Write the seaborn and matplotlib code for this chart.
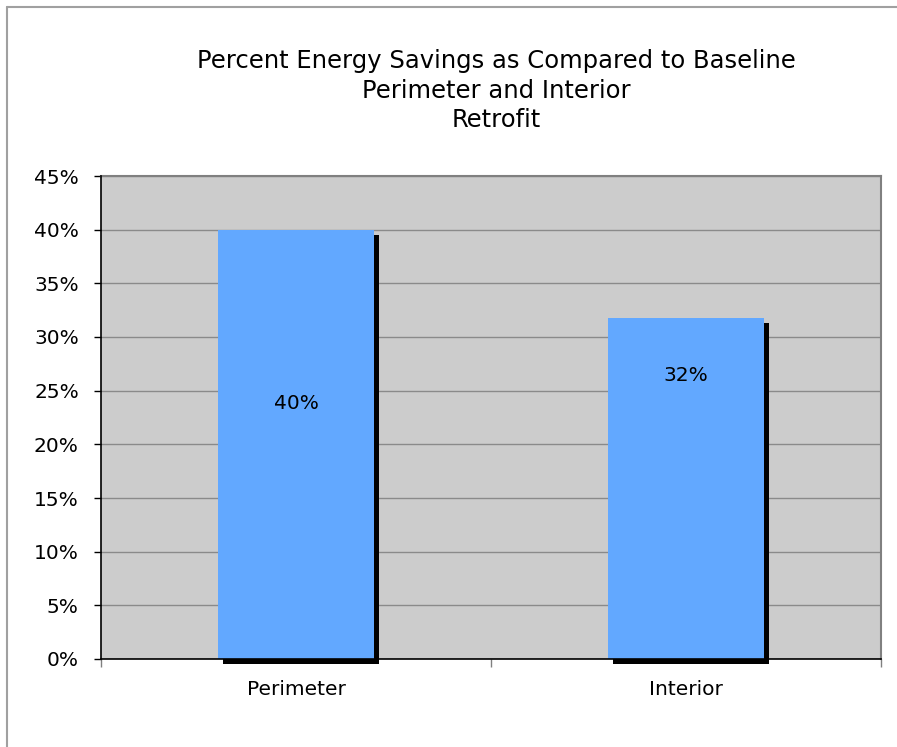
import matplotlib
matplotlib.use("Agg")
import matplotlib.pyplot as plt
import matplotlib.transforms as mtransforms
from matplotlib.patches import Rectangle
from matplotlib.lines import Line2D
import matplotlib.ticker as mticker
import pandas as pd
import seaborn as sns

# Chart data
categories = ["Perimeter", "Interior"]
savings = [0.40, 0.318]
value_labels = ["40%", "32%"]
# vertical placement of the value labels inside each bar (axis units)
label_y = [0.2385, 0.264]

title_lines = [
    "Percent Energy Savings as Compared to Baseline",
    "Perimeter and Interior",
    "Retrofit",
]
y_ticks = [0.0, 0.05, 0.10, 0.15, 0.20, 0.25, 0.30, 0.35, 0.40, 0.45]

sns.set_theme(style="white")
plt.rcParams["font.family"] = ["DejaVu Sans"]

BAR = "#62A8FF"
PANEL = "#CCCCCC"
GRID = "#8A8A8A"
LABEL_SIZE = 14.5

W, H = 897, 747
fig = plt.figure(figsize=(W / 100, H / 100), dpi=100)
fig.patch.set_facecolor("white")

ax = fig.add_axes([101 / W, (H - 659) / H, 780 / W, 483 / H])
ax.set_facecolor(PANEL)

df = pd.DataFrame({"category": categories, "savings": savings})
sns.barplot(data=df, x="category", y="savings", color=BAR, saturation=1,
            width=0.40, edgecolor="none", linewidth=0, ax=ax, zorder=3)

# drop shadow behind each bar, offset right and down
shadow_tf = mtransforms.offset_copy(ax.transData, fig=fig, x=5, y=-5, units="dots")
for p in list(ax.patches):
    ax.add_patch(Rectangle(p.get_xy(), p.get_width(), p.get_height(),
                           facecolor="black", edgecolor="none",
                           transform=shadow_tf, zorder=2, clip_on=False))

for i, (txt, ly) in enumerate(zip(value_labels, label_y)):
    ax.text(i, ly, txt, ha="center", va="center", fontsize=LABEL_SIZE,
            color="black", zorder=5)

ax.set_xlim(-0.5, len(categories) - 0.5)
ax.set_ylim(0, 0.45)
ax.set_yticks(y_ticks)
ax.yaxis.set_major_formatter(mticker.FuncFormatter(lambda v, _: f"{v * 100:.0f}%"))
ax.yaxis.grid(True, color=GRID, linewidth=1)
ax.set_axisbelow(True)

# category boundaries carry the tick marks; names sit at the centres
ax.set_xticks([i - 0.5 for i in range(len(categories) + 1)])
ax.set_xticklabels([])
ax.set_xticks(range(len(categories)), minor=True)
ax.set_xticklabels(categories, minor=True)
ax.tick_params(axis="x", which="major", length=6, width=1, color="#808080",
               direction="out", bottom=True)
ax.tick_params(axis="x", which="minor", length=0, pad=15, labelsize=LABEL_SIZE,
               labelcolor="black")
ax.tick_params(axis="y", length=5, width=1, color="black", direction="out",
               left=True, pad=11, labelsize=LABEL_SIZE, labelcolor="black")
ax.set_xlabel("")
ax.set_ylabel("")

for side in ("top", "right"):
    ax.spines[side].set_color("#808080")
    ax.spines[side].set_linewidth(1.5)
for side in ("left", "bottom"):
    ax.spines[side].set_color("black")
    ax.spines[side].set_linewidth(1.2)
    ax.spines[side].set_zorder(6)

fig.text(496 / W, 1 - 90.5 / H, "\n".join(title_lines), ha="center", va="center",
         fontsize=17.5, color="black", linespacing=1.3)

# outer chart frame
fig.add_artist(Line2D([7 / W, 7 / W], [0, 1 - 7 / H], transform=fig.transFigure,
                      color="#A0A0A0", linewidth=1.5))
fig.add_artist(Line2D([7 / W, 1], [1 - 7 / H, 1 - 7 / H], transform=fig.transFigure,
                      color="#A0A0A0", linewidth=1.5))

fig.savefig("out.png", dpi=100)
